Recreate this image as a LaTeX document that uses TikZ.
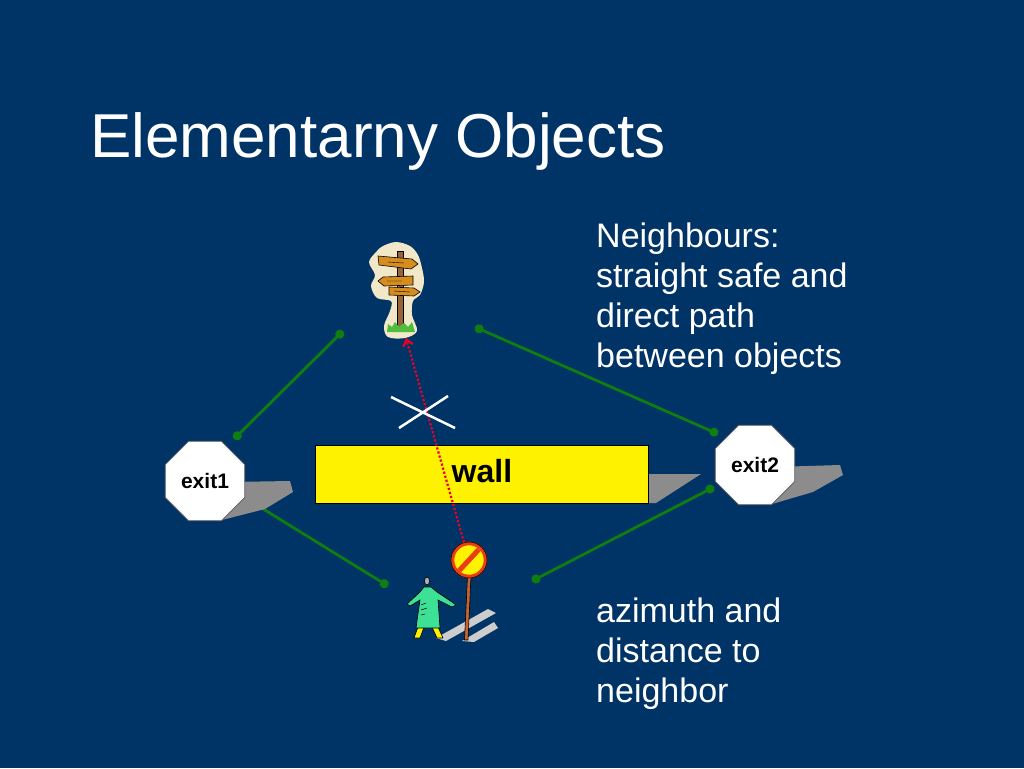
\documentclass[tikz,border=0pt]{standalone}
\usepackage{fontspec}
\setmainfont{Liberation Sans}
\usetikzlibrary{shapes.geometric,arrows.meta}
\definecolor{bg}{RGB}{0,51,102}
\definecolor{lgreen}{RGB}{15,125,15}
\definecolor{shadowgray}{RGB}{140,140,140}
\definecolor{lightshadow}{RGB}{205,205,205}
\definecolor{redarrow}{RGB}{235,0,40}
\definecolor{cream}{RGB}{240,232,200}
\definecolor{postbrown}{RGB}{150,100,55}
\definecolor{signorange}{RGB}{215,140,30}
\definecolor{grass}{RGB}{80,190,60}
\definecolor{coat}{RGB}{60,225,150}
\definecolor{signred}{RGB}{235,60,20}
\definecolor{stickbrown}{RGB}{195,100,50}
\begin{document}
\begin{tikzpicture}[x=1pt,y=-1pt,
  exitbox/.style={regular polygon, regular polygon sides=8, minimum size=86pt,
    inner sep=0pt, fill=white, draw=black!60, line width=0.8pt,
    font=\fontsize{21}{24}\selectfont\bfseries},
  link/.style={lgreen, line width=2.8pt, {Circle[length=9pt]}-{Circle[length=9pt]}},
  shade/.style={fill=shadowgray},
  bodytext/.style={text=white, align=left, inner sep=0pt, anchor=north west,
    font=\fontsize{34}{40}\selectfont},
  outline/.style={draw=black, line width=0.6pt}]
\fill[bg] (0,0) rectangle (1024,768);
\useasboundingbox (0,0) rectangle (1024,768);

% title and texts
\node[anchor=base west, inner sep=0pt, text=white, font=\fontsize{62}{70}\selectfont]
  (title) at (90,157) {Elementarny Objects};
\node[bodytext] (neigh) at (596,223) {Neighbours:\\straight safe and\\direct path\\between objects};
\node[bodytext] (azim) at (596,598) {azimuth and\\distance to\\neighbor};

% end points of the green links
\coordinate (l1a) at (234,439); \coordinate (l1b) at (343,331);
\coordinate (l2a) at (475,327); \coordinate (l2b) at (718,434);
\coordinate (l3a) at (247,499); \coordinate (l3b) at (388,586);
\coordinate (l4a) at (532,581); \coordinate (l4b) at (714,487);
\draw[link] (l1a) -- (l1b);
\draw[link] (l2a) -- (l2b);
\draw[link] (l3a) -- (l3b);
\draw[link] (l4a) -- (l4b);

% wall
\fill[shade] (645,474) -- (701,474) -- (656,503) -- (645,503) -- cycle;
\node[fill=yellow, draw=black, line width=0.8pt, minimum width=333pt, minimum height=58pt,
  inner sep=0pt, anchor=north west] (wall) at (315,445) {};
\node[font=\fontsize{32}{36}\selectfont\bfseries, inner sep=0pt]
  (walltext) at ([yshift=3.5pt]wall.center) {wall};

% exits
\fill[shade] (230,482) -- (290,481) -- (293,492) -- (265,509) -- (222,520) -- cycle;
\node[exitbox] (exit1) at (205,481) {exit1};
\fill[shade] (775,467) -- (840,465) -- (843,475) -- (813,492) -- (772,504) -- cycle;
\node[exitbox] (exit2) at (755,465) {exit2};

% signpost icon
\coordinate (signpost) at (397,290);
\fill[cream] plot[smooth cycle, tension=0.55] coordinates {
  (383,246) (396,242) (410,246) (418,255) (422,268) (424,282) (420,295) (413,301)
  (412,315) (417,331) (405,338) (388,337) (384,326) (390,311) (391,301) (377,298)
  (371,286) (375,275) (369,262) (377,251)};
\draw[outline, fill=postbrown] (397,251) rectangle (403,330);
\draw[outline, fill=signorange] (378,256) -- (412,259) -- (418,264) -- (411,269) -- (379,265) -- cycle;
\draw[outline, fill=signorange] (413,276) -- (413,285) -- (384,286) -- (378,281) -- (383,277) -- cycle;
\draw[outline, fill=signorange] (389,287) -- (414,288) -- (420,292) -- (414,296) -- (389,295) -- cycle;
\draw[black, line width=0.4pt] (388,262) -- (404,263) (387,281) -- (402,281) (394,291) -- (410,292);
\fill[grass] (387,332) -- (388,324) -- (392,327) -- (395,322) -- (399,327) -- (404,323)
  -- (408,327) -- (412,322) -- (415,332) -- cycle;

% person with no-entry sign
\fill[lightshadow] (436,638) -- (488,609) -- (496,613) -- (446,641) -- cycle;
\fill[lightshadow] (462,641) -- (494,622) -- (498,628) -- (474,642) -- cycle;
\draw[outline, fill=stickbrown] (467.5,576) -- (471,576) -- (468,640) -- (464.5,640) -- cycle;
\node[circle, minimum size=33pt, inner sep=0pt, fill=yellow, draw=signred, line width=3.5pt]
  (nosign) at (469,560) {};
\begin{scope}
  \clip (469,560) circle (14.5);
  \draw[signred, line width=5pt] (482,546) -- (456,574);
\end{scope}
\draw[black, line width=0.5pt] (469,560) circle (18);
\draw[outline, fill=yellow] (418,627) -- (414,638) -- (420,638) -- (424,627) -- cycle;
\draw[outline, fill=yellow] (432,627) -- (437,638) -- (443,638) -- (438,627) -- cycle;
\draw[outline, fill=coat] (424,587) -- (431,587) -- (437,592) -- (452,602) -- (456,605)
  -- (452,607) -- (438,600) -- (440,628) -- (416,628) -- (420,600) -- (410,606)
  -- (407,604) -- (420,592) -- cycle;
\draw[outline, fill=gray!60] (427,581) ellipse (2.5 and 4);
\draw[black, line width=0.5pt] (421,605) -- (426,603) (421,610) -- (427,608) (421,615) -- (425,614);

% blocked direct path
\coordinate (tip) at (406,338);
\draw[redarrow, line width=2.2pt, dotted, -{Straight Barb[length=6pt,width=10pt]}]
  (nosign) -- (tip);
\coordinate (cross) at (423,412);
\draw[white, line width=2.5pt] (391,397) -- (455,428) (399,428) -- (448,396);
\end{tikzpicture}
\end{document}
